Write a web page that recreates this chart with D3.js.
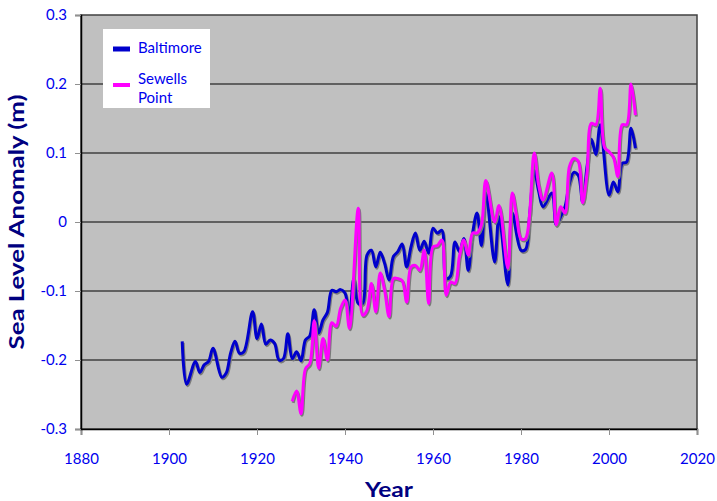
<!DOCTYPE html>
<html>
<head>
<meta charset="utf-8">
<script src="https://cdn.jsdelivr.net/npm/d3@7"></script>
<style>
  body { margin: 0; background: #fff; }
  text { font-family: Lato, "Noto Sans", sans-serif; }
</style>
</head>
<body>
<div id="chart"></div>
<script>
// data (year, metres)
const baltimoreYears = [1903,1904,1906,1907,1908,1909,1910,1912,1913,1914,1915,1916,1917,1919,1920,1921,1922,1923,1924,1925,1926,1927,1928,1929,1930,1931,1932,1933,1934,1935,1936,1937,1938,1939,1940,1941,1942,1943,1944,1945,1946,1947,1948,1949,1950,1951,1952,1953,1954,1955,1956,1957,1958,1959,1960,1961,1962,1963,1964,1965,1966,1967,1968,1969,1970,1971,1972,1974,1975,1977,1978,1980,1981,1982,1983,1984,1985,1987,1988,1989,1990,1991,1992,1993,1994,1995,1996,1997,1998,2000,2001,2002,2003,2004,2005,2006]
const baltimoreValues = [-0.173,-0.235,-0.202,-0.218,-0.207,-0.202,-0.183,-0.225,-0.219,-0.190,-0.173,-0.190,-0.188,-0.130,-0.169,-0.148,-0.177,-0.171,-0.176,-0.200,-0.198,-0.162,-0.198,-0.188,-0.201,-0.171,-0.165,-0.127,-0.161,-0.142,-0.131,-0.099,-0.101,-0.098,-0.103,-0.137,-0.082,-0.118,-0.118,-0.048,-0.041,-0.065,-0.044,-0.060,-0.084,-0.050,-0.043,-0.032,-0.065,-0.036,-0.016,-0.041,-0.028,-0.045,-0.009,-0.016,-0.012,-0.082,-0.078,-0.029,-0.043,-0.024,-0.070,-0.016,0.013,-0.034,0.042,-0.058,0.008,-0.091,0.013,-0.041,-0.040,0.013,0.075,0.045,0.022,0.042,-0.004,0.008,0.022,0.056,0.072,0.068,0.029,0.080,0.120,0.098,0.141,0.039,0.058,0.044,0.085,0.087,0.136,0.107]

const sewellsYears = [1928,1929,1930,1931,1932,1933,1934,1935,1936,1937,1938,1939,1940,1941,1943,1944,1945,1946,1947,1948,1949,1950,1951,1952,1953,1954,1955,1956,1957,1958,1959,1960,1961,1962,1963,1964,1965,1966,1967,1968,1969,1970,1971,1972,1974,1975,1977,1978,1979,1980,1981,1983,1984,1985,1987,1988,1989,1990,1991,1992,1993,1994,1995,1996,1997,1998,1999,2000,2001,2002,2003,2004,2005,2006]
const sewellsValues = [-0.260,-0.245,-0.278,-0.213,-0.205,-0.143,-0.212,-0.169,-0.200,-0.146,-0.151,-0.125,-0.113,-0.154,0.020,-0.135,-0.128,-0.089,-0.130,-0.074,-0.099,-0.137,-0.082,-0.082,-0.085,-0.116,-0.065,-0.063,-0.070,-0.041,-0.118,-0.036,-0.034,-0.026,-0.106,-0.087,-0.089,-0.050,-0.026,-0.048,-0.016,-0.016,-0.004,0.060,0.000,0.024,-0.067,0.042,0.008,-0.024,-0.024,0.100,0.054,0.032,0.071,-0.004,0.022,0.013,0.080,0.092,0.088,0.028,0.071,0.143,0.141,0.194,0.108,0.102,0.094,0.066,0.141,0.141,0.200,0.155]

const xTicks = [1880,1900,1920,1940,1960,1980,2000,2020]
const yTicks = [-0.3,-0.2,-0.1,0,0.1,0.2,0.3]

const W = 717, H = 501
const margin = {top:15, right:20, bottom:72, left:81},
  width = W - margin.left - margin.right,
  height = H - margin.top - margin.bottom;

const x = d3.scaleLinear().domain([1880, 2020]).range([0, width])
const y = d3.scaleLinear().domain([-0.3, 0.3]).range([height, 0])

const svg = d3.select("#chart")
  .append("svg")
    .attr("width", W)
    .attr("height", H)
  .append("g")
    .attr("transform", "translate(" + margin.left + "," + margin.top + ")");

// plot background
svg.append("rect")
  .attr("width", width)
  .attr("height", height)
  .attr("fill", "#c0c0c0")

// grid
svg.append("g")
  .selectAll("line")
  .data(yTicks.filter(d => d > -0.3 && d < 0.3))
  .enter()
  .append("line")
    .attr("x1", 0).attr("x2", width)
    .attr("y1", d => y(d)).attr("y2", d => y(d))
    .attr("stroke", "#404040")
    .attr("stroke-width", 1.5)

// frame
svg.append("rect")
  .attr("width", width)
  .attr("height", height)
  .attr("fill", "none")
  .attr("stroke", "#404040")
  .attr("stroke-width", 1.5)

//x axis
const xAxis = svg.append("g")
  .attr("transform", "translate(0," + height + ")")
  .call(d3.axisBottom(x).tickValues(xTicks).tickFormat(d => d).tickSize(6).tickPadding(18))
xAxis.select(".domain").attr("stroke", "#000").attr("stroke-width", 1.5)
xAxis.selectAll(".tick line").attr("stroke", "#909090")
xAxis.selectAll("text").attr("fill", "#0000ee").style("font-size", "15px").style("font-family", "Lato")

//y axis (plain hyphen for negatives, like the original)
const yAxis = svg.append("g")
  .call(d3.axisLeft(y).tickValues(yTicks).tickFormat(d => d === 0 ? "0" : d.toFixed(1)).tickSize(6).tickPadding(8))
yAxis.select(".domain").attr("stroke", "#000").attr("stroke-width", 1.5)
yAxis.selectAll(".tick line").attr("stroke", "#909090")
yAxis.selectAll("text").attr("fill", "#0000ee").style("font-size", "15px").style("font-family", "Lato")

// series
const series = [
  {name: "Baltimore", years: baltimoreYears, values: baltimoreValues, color: "#0000cc"},
  {name: "Sewells Point", years: sewellsYears, values: sewellsValues, color: "#ff00ff"}
]

const line = d3.line()
  .x(d => x(d[0]))
  .y(d => y(d[1]))
  .curve(d3.curveCatmullRom)

series.forEach(s => {
  const pts = s.years.map((yr, i) => [yr, s.values[i]])
  svg.append("path")
    .attr("d", line(pts))
    .attr("fill", "none")
    .attr("stroke", "#7a7a7a")
    .attr("stroke-width", 3)
    .attr("stroke-linejoin", "round")
    .attr("transform", "translate(1,1.5)")
  svg.append("path")
    .attr("d", line(pts))
    .attr("fill", "none")
    .attr("stroke", s.color)
    .attr("stroke-width", 3)
    .attr("stroke-linejoin", "round")
})

// legend
const legend = svg.append("g").attr("transform", "translate(22,14)")
legend.append("rect")
  .attr("width", 107).attr("height", 79)
  .attr("fill", "#fff")
legend.append("line")
  .attr("x1", 10).attr("x2", 27).attr("y1", 20).attr("y2", 20)
  .attr("stroke", "#0000cc").attr("stroke-width", 5)
legend.append("text")
  .attr("x", 35).attr("y", 24)
  .attr("fill", "#0000ee").style("font-size", "15px")
  .text("Baltimore")
legend.append("line")
  .attr("x1", 10).attr("x2", 27).attr("y1", 56).attr("y2", 56)
  .attr("stroke", "#ff00ff").attr("stroke-width", 4)
legend.append("text")
  .attr("x", 35).attr("y", 55)
  .attr("fill", "#0000ee").style("font-size", "15px")
  .text("Sewells")
legend.append("text")
  .attr("x", 35).attr("y", 74)
  .attr("fill", "#0000ee").style("font-size", "15px")
  .text("Point")

// axis titles
svg.append("text")
  .attr("x", width / 2).attr("y", H - margin.top - 4)
  .attr("text-anchor", "middle")
  .attr("fill", "#000080")
  .attr("textLength", 48).attr("lengthAdjust", "spacingAndGlyphs")
  .style("font-size", "21px").style("font-weight", "bold")
  .text("Year")

svg.append("text")
  .attr("transform", "translate(" + (24 - margin.left) + "," + (height / 2) + ") rotate(-90)")
  .attr("text-anchor", "middle")
  .attr("fill", "#000080")
  .attr("textLength", 255).attr("lengthAdjust", "spacingAndGlyphs")
  .style("font-size", "21px").style("font-weight", "bold")
  .text("Sea Level Anomaly (m)")
</script>
</body>
</html>
